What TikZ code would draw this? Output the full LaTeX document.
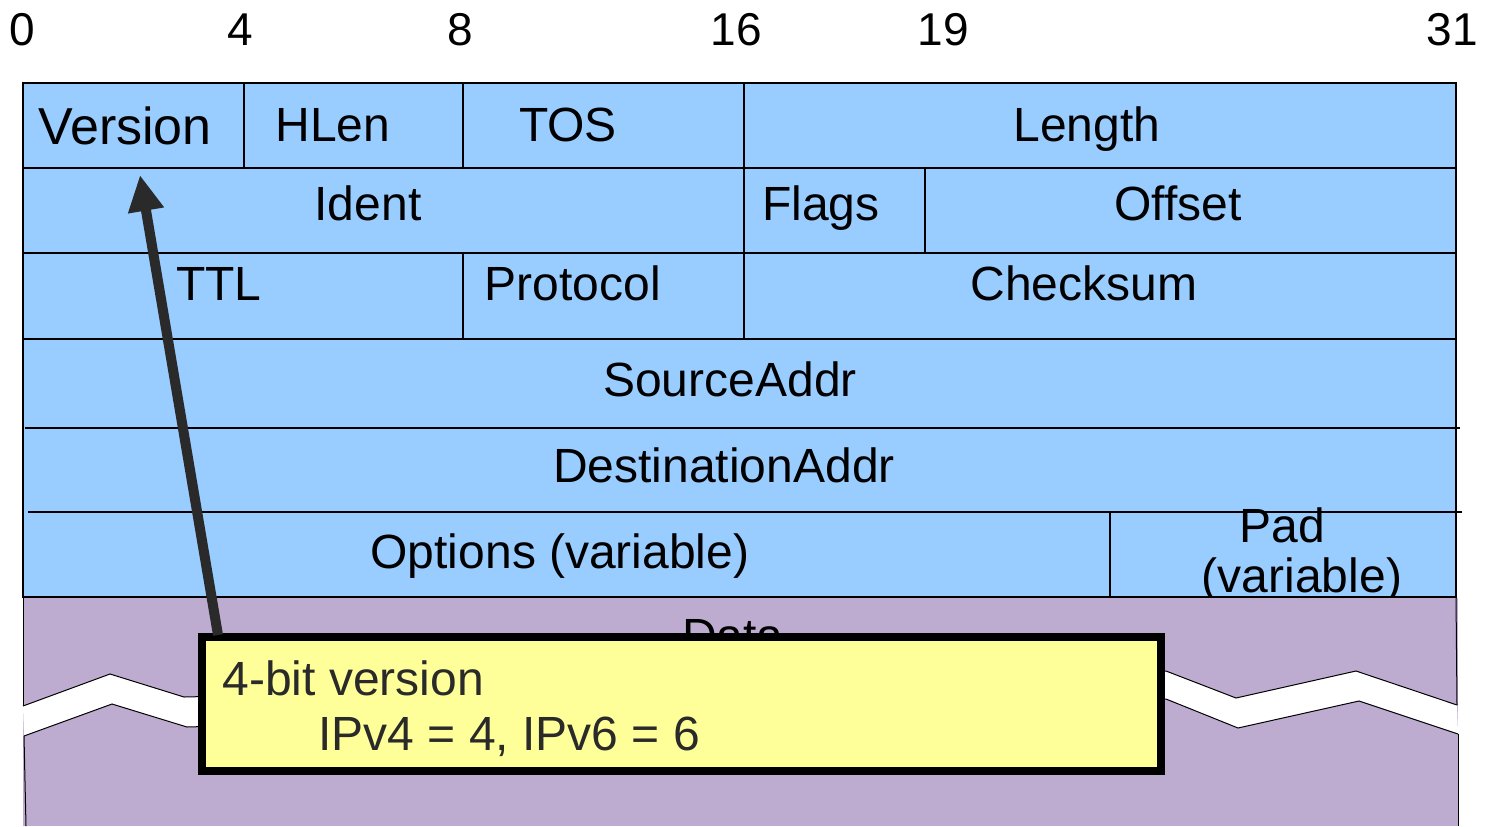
\documentclass[tikz,border=0pt]{standalone}
\usepackage{fontspec}
\setmainfont{Liberation Sans}
\usetikzlibrary{arrows.meta}

\definecolor{fieldblue}{HTML}{99CCFF}
\definecolor{datapurple}{HTML}{BEACD0}
\definecolor{noteyellow}{HTML}{FFFF99}
\definecolor{pointergray}{HTML}{2A2A2A}

\begin{document}
\begin{tikzpicture}[
  x=0.5pt, y=-0.5pt,
  >=Triangle,
  field/.style={anchor=base, inner sep=0pt, font=\fontsize{24}{25}\selectfont},
  bitnum/.style={anchor=base, inner sep=0pt, font=\fontsize{23}{24}\selectfont},
  grid/.style={line width=1pt},
  edge/.style={line width=0.5pt},
  callout/.style={draw, line width=4pt, fill=noteyellow, minimum width=479.5pt, minimum height=67pt, inner sep=0pt},
  notetext/.style={anchor=base west, inner sep=0pt, text=pointergray, font=\fontsize{24}{25}\selectfont},
  pointer/.style={-{Triangle[length=18pt, width=17pt]}, line width=5pt, draw=pointergray}
]
\useasboundingbox (0,0) rectangle (1489,826);

% Bit positions
\node[bitnum] (b0) at (22,45) {0};
\node[bitnum] (b4) at (240,45) {4};
\node[bitnum] (b8) at (460,45) {8};
\node[bitnum] (b16) at (736,45) {16};
\node[bitnum] (b19) at (943,45) {19};
\node[bitnum] (b31) at (1452,45) {31};

% Header fields
\fill[fieldblue] (23,83) rectangle (1456,597);
\draw[grid] (23,83) rectangle (1456,597);
\foreach \y in {168,253,339}
  \draw[grid] (23,\y) -- (1456,\y);
\draw[grid] (25,428) -- (1460,428);
\draw[grid] (28,512) -- (1462,512);
\draw[grid] (244,83) -- (244,168);
\draw[grid] (463,83) -- (463,168);
\draw[grid] (463,253) -- (463,339);
\draw[grid] (744,83) -- (744,339);
\draw[grid] (925,168) -- (925,253);
\draw[grid] (1110,512) -- (1110,597);

% Field labels
\node[field, font=\fontsize{26}{28}\selectfont] (version) at (125,144) {Version};
\node[field] (hlen) at (333,141) {HLen};
\node[field] (tos) at (568,141) {TOS};
\node[field] (length) at (1087,141) {Length};
\node[field] (ident) at (368,220) {Ident};
\node[field] (flags) at (821,220) {Flags};
\node[field] (offset) at (1178,220) {Offset};
\node[field] (ttl) at (219,300) {TTL};
\node[field] (protocol) at (573,300) {Protocol};
\node[field] (checksum) at (1084,300) {Checksum};
\node[field] (srcaddr) at (730,396) {SourceAddr};
\node[field] (dstaddr) at (724,482) {DestinationAddr};
\node[field] (options) at (560,568) {Options (variable)};
\node[field] (pad) at (1282,542) {Pad};
\node[field] (padvar) at (1302,592) {(variable)};

% Data with break
\fill[datapurple] (23,598) rectangle (1458,826);
\node[field] (data) at (733,652) {Data};
\draw[edge] (23,597) -- (23,706);
\draw[edge] (24,736) -- (26,826);
\draw[edge] (1456,597) -- (1457,705);
\draw[edge] (1458,734) -- (1458,826);
\fill[white] (23,706) -- (110,674) -- (184,697) -- (700,685) -- (1166,671)
  -- (1236,698) -- (1356,671) -- (1457,705) -- (1458,734) -- (1359,701)
  -- (1238,728) -- (1166,699) -- (700,712) -- (187,727) -- (112,704)
  -- (24,736) -- cycle;
\draw[edge] (23,706) -- (110,674) -- (184,697) -- (700,685) -- (1166,671)
  -- (1236,698) -- (1356,671) -- (1457,705);
\draw[edge] (24,736) -- (112,704) -- (187,727) -- (700,712) -- (1166,699)
  -- (1238,728) -- (1359,701) -- (1458,734);
\draw[grid] (23,597) -- (1456,597);

% Callout
\coordinate (vtip) at (140,175);
\node[callout] (note) at (681.5,704) {};
\draw[pointer] ([xshift=10pt, yshift=-1pt]note.north west) -- (vtip);
\node[notetext] (note1) at (222,695) {4-bit version};
\node[notetext] (note2) at (318,750) {IPv4 = 4, IPv6 = 6};

\end{tikzpicture}
\end{document}
